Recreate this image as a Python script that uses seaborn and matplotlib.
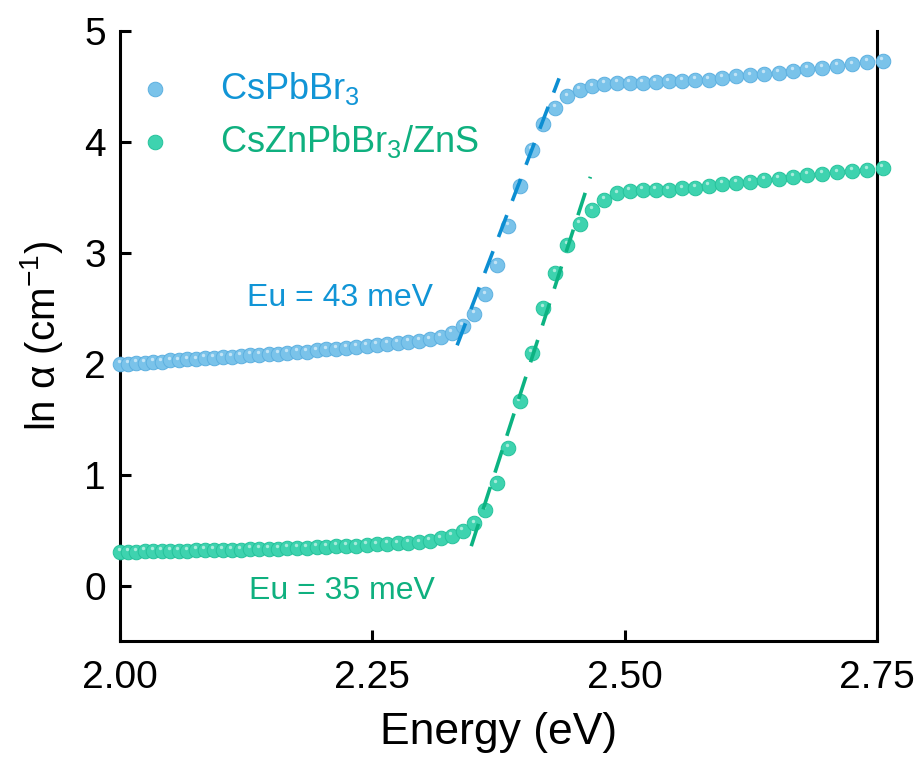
import pandas as pd
import seaborn as sns
import matplotlib.pyplot as plt
from matplotlib.transforms import ScaledTranslation

# Photon energy of each data point (eV)
energy = [
    2.0000, 2.0081, 2.0163, 2.0245, 2.0328, 2.0412, 2.0496, 2.0581, 2.0667, 2.0753,
    2.0840, 2.0928, 2.1017, 2.1106, 2.1197, 2.1288, 2.1379, 2.1472, 2.1565, 2.1659,
    2.1754, 2.1850, 2.1947, 2.2044, 2.2143, 2.2242, 2.2342, 2.2443, 2.2545, 2.2648,
    2.2752, 2.2857, 2.2963, 2.3070, 2.3178, 2.3286, 2.3396, 2.3507, 2.3619, 2.3732,
    2.3846, 2.3961, 2.4078, 2.4195, 2.4314, 2.4433, 2.4554, 2.4677, 2.4800, 2.4925,
    2.5051, 2.5178, 2.5306, 2.5436, 2.5567, 2.5699, 2.5833, 2.5969, 2.6105, 2.6243,
    2.6383, 2.6524, 2.6667, 2.6811, 2.6957, 2.7104, 2.7253, 2.7403, 2.7556,
]

# ln(alpha) for CsPbBr3
ln_alpha_cspbbr3 = [
    2.00, 2.00, 2.01, 2.01, 2.02, 2.02, 2.03, 2.03, 2.04, 2.04,
    2.05, 2.05, 2.06, 2.06, 2.07, 2.08, 2.08, 2.09, 2.09, 2.10,
    2.11, 2.11, 2.12, 2.13, 2.136, 2.142, 2.151, 2.163, 2.172, 2.181,
    2.19, 2.196, 2.208, 2.22, 2.241, 2.277, 2.34, 2.446, 2.626, 2.894,
    3.246, 3.60, 3.93, 4.16, 4.31, 4.41, 4.47, 4.50, 4.52, 4.53,
    4.535, 4.535, 4.54, 4.545, 4.55, 4.56, 4.56, 4.575, 4.59, 4.60,
    4.61, 4.62, 4.64, 4.655, 4.67, 4.685, 4.70, 4.72, 4.73,
]

# ln(alpha) for CsZnPbBr3/ZnS
ln_alpha_csznpbbr3 = [
    0.30, 0.30, 0.30, 0.31, 0.31, 0.31, 0.31, 0.31, 0.31, 0.32,
    0.32, 0.32, 0.32, 0.32, 0.32, 0.33, 0.33, 0.33, 0.33, 0.34,
    0.34, 0.34, 0.35, 0.35, 0.355, 0.36, 0.36, 0.365, 0.37, 0.375,
    0.38, 0.385, 0.39, 0.405, 0.425, 0.445, 0.49, 0.56, 0.68, 0.92,
    1.24, 1.66, 2.10, 2.50, 2.82, 3.07, 3.26, 3.39, 3.48, 3.535,
    3.56, 3.565, 3.57, 3.57, 3.58, 3.585, 3.60, 3.62, 3.63, 3.64,
    3.655, 3.67, 3.685, 3.70, 3.715, 3.725, 3.74, 3.75, 3.766,
]

# Linear Urbach-tail fits (end points)
fit_cspbbr3_x = [2.334, 2.435]
fit_cspbbr3_y = [2.166, 4.573]
fit_csznpbbr3_x = [2.348, 2.466]
fit_csznpbbr3_y = [0.355, 3.685]

samples = ["CsPbBr$_3$", "CsZnPbBr$_3$/ZnS"]
urbach_labels = ["Eu = 43 meV", "Eu = 35 meV"]
x_ticks = [2.00, 2.25, 2.50, 2.75]
y_ticks = [0, 1, 2, 3, 4, 5]

marker_colors = ["#7AC3EA", "#3ED3AF"]
edge_colors = ["#5DB0E0", "#25C29B"]
text_colors = ["#1195D6", "#0FB07F"]
line_colors = ["#0C8ED2", "#0CB382"]

series = [ln_alpha_cspbbr3, ln_alpha_csznpbbr3]

sns.set_theme(style="ticks")
plt.rcParams["font.family"] = ["Liberation Sans", "DejaVu Sans"]
plt.rcParams["mathtext.default"] = "regular"
plt.rcParams["text.color"] = "black"
plt.rcParams["axes.labelcolor"] = "black"

fig = plt.figure(figsize=(9.2, 7.6), dpi=100)
ax = fig.add_axes([0.1304, 0.1566, 0.8229, 0.8026])

# small specular highlight on each sphere
hl = ax.transData + ScaledTranslation(-1.0 / 72, 2.0 / 72, fig.dpi_scale_trans)
for name, vals, mc, ec in zip(samples, series, marker_colors, edge_colors):
    d = pd.DataFrame({"Energy": energy, "ln_alpha": vals})
    sns.scatterplot(data=d, x="Energy", y="ln_alpha", color=mc, edgecolor=ec,
                    s=110, linewidth=0.7, label=name, clip_on=False, zorder=3, ax=ax)
    sns.scatterplot(data=d, x="Energy", y="ln_alpha", color="white", alpha=0.55, s=6,
                    linewidth=0, legend=False, clip_on=False, zorder=4, ax=ax,
                    transform=hl)

for fx, fy, c in [(fit_cspbbr3_x, fit_cspbbr3_y, line_colors[0]),
                  (fit_csznpbbr3_x, fit_csznpbbr3_y, line_colors[1])]:
    ax.plot(fx, fy, color=c, lw=2.6, linestyle=(0, (6.5, 4.2)), zorder=5)

ax.text(2.126, 2.59, urbach_labels[0], color=text_colors[0], fontsize=23, va="center")
ax.text(2.128, -0.045, urbach_labels[1], color=text_colors[1], fontsize=23, va="center")

ax.set_xlim(2.0, 2.75)
ax.set_ylim(-0.5, 5)
ax.set_xticks(x_ticks)
ax.set_xticklabels([f"{t:.2f}" for t in x_ticks])
ax.set_yticks(y_ticks)
ax.set_xlabel("Energy (eV)", fontsize=32, labelpad=11)
ax.set_ylabel("ln \u03b1 (cm$^{-1}$)", fontsize=29, labelpad=14)
ax.tick_params(direction="in", length=8, width=2.2, labelsize=28,
               color="black", labelcolor="black", right=False, top=False)
ax.tick_params(axis="x", pad=14)
ax.tick_params(axis="y", pad=10)
ax.spines["top"].set_visible(False)
for side in ["left", "right", "bottom"]:
    ax.spines[side].set_linewidth(2.2)
    ax.spines[side].set_color("black")

handles, labels = ax.get_legend_handles_labels()
leg = ax.legend(handles, labels, loc="upper left", bbox_to_anchor=(-0.02, 0.99),
                frameon=False, fontsize=26, handlelength=1.0, handletextpad=1.3,
                labelspacing=0.45)
for t, c in zip(leg.get_texts(), text_colors):
    t.set_color(c)

fig.savefig("out.png", dpi=100)
